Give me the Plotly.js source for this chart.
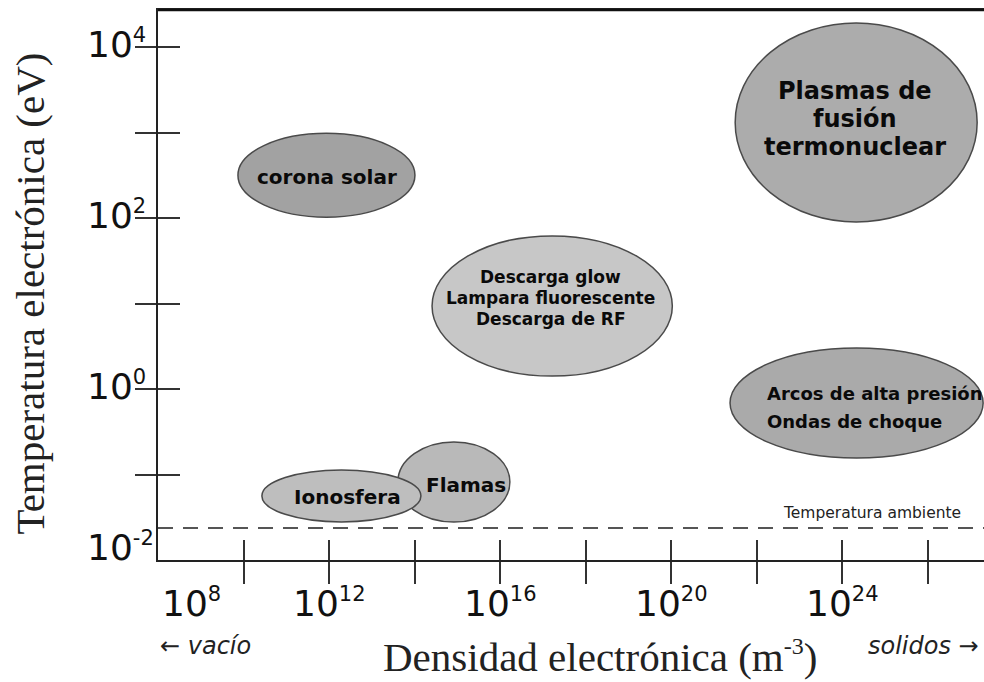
<!DOCTYPE html>
<html><head><meta charset="utf-8">
<script src="https://cdn.plot.ly/plotly-3.0.1.min.js"></script>
<style>html,body{margin:0;padding:0;background:#fff}#chart{width:984px;height:682px}</style>
</head><body><div id="chart"></div>
<script>
// ---- Data (log10 units: density in m^-3, temperature in eV) ----
const regionLines = [
  ['corona solar'],
  ['Plasmas de', 'fusión', 'termonuclear'],
  ['Descarga glow', 'Lampara fluorescente', 'Descarga de RF'],
  ['Arcos de alta presión', 'Ondas de choque'],
  ['Flamas'],
  ['Ionosfera']
];
const densityCenterLog   = [11.94, 24.33, 17.22, 24.34, 14.92, 12.29];
const densityHalfWidth   = [2.07, 2.83, 2.81, 2.96, 1.31, 1.86];
const tempCenterLog      = [2.50, 3.117, 0.971, -0.164, -1.088, -1.251];
const tempHalfHeight     = [0.49, 1.164, 0.82, 0.643, 0.468, 0.304];
const labelDensityLog    = [11.96, 24.30, 17.19, 22.2, 15.2, 12.44];
const labelTempLog       = [2.48, 3.158, 1.064, -0.211, -1.123, -1.263];
const roomTemperatureEV  = 0.0237;
const roomTemperatureLabel = 'Temperatura ambiente';
const xTickExp  = [10, 12, 14, 16, 18, 20, 22, 24, 26];
const xLabelExp = [8, 12, 16, 20, 24];
const yTickExp  = [-1, 0, 1, 2, 3, 4];
const yLabelExp = [-2, 0, 2, 4];
const xRange = [8, 27.32];
const yRange = [-2, 4.433];

// ---- Styles ----
const regionFill = ['#a2a2a2', '#acacac', '#c7c7c7', '#aaaaaa', '#b9b9b9', '#bebebe'];
const regionFont = [20, 24, 17, 18, 20, 20];
const regionGap  = [0, 28, 21, 28, 0, 0];
const regionAlign = ['center', 'center', 'center', 'left', 'center', 'center'];
const sans = 'DejaVu Sans, Verdana, sans-serif';
const serif = 'Liberation Serif, Times New Roman, serif';
const axisColor = '#222';

const shapes = [];
densityCenterLog.forEach((c, i) => {
  shapes.push({
    type: 'circle', xref: 'x', yref: 'y', layer: 'above',
    x0: c - densityHalfWidth[i], x1: c + densityHalfWidth[i],
    y0: tempCenterLog[i] - tempHalfHeight[i], y1: tempCenterLog[i] + tempHalfHeight[i],
    fillcolor: regionFill[i], line: {color: '#4a4a4a', width: 1.5}
  });
});
const roomLog = Math.log10(roomTemperatureEV);
shapes.push({type: 'line', xref: 'paper', x0: 0, x1: 1, yref: 'y', y0: roomLog, y1: roomLog,
  line: {color: '#555', width: 2, dash: '15px,10px'}, layer: 'below'});
// heavier top frame line
shapes.push({type: 'line', xref: 'paper', x0: 0, x1: 1, yref: 'paper', y0: 1, y1: 1,
  line: {color: '#111', width: 2.5}, layer: 'above'});

const annotations = [];
regionLines.forEach((lines, i) => {
  const n = lines.length;
  lines.forEach((t, j) => {
    annotations.push({
      xref: 'x', yref: 'y', x: labelDensityLog[i], y: labelTempLog[i],
      yshift: ((n - 1) / 2 - j) * regionGap[i],
      xanchor: regionAlign[i] === 'left' ? 'left' : 'center', yanchor: 'middle',
      text: '<b>' + t + '</b>', showarrow: false,
      font: {family: sans, size: regionFont[i], color: '#0a0a0a'}
    });
  });
});
// room temperature label
annotations.push({xref: 'x', yref: 'y', x: 24.7, y: roomLog, yshift: 15, yanchor: 'middle',
  text: roomTemperatureLabel, showarrow: false, font: {family: sans, size: 15.5, color: '#222'}});
// x tick labels
xLabelExp.forEach(e => {
  annotations.push({xref: 'x', x: e, yref: 'paper', y: 0, yanchor: 'top', yshift: -20,
    xanchor: e === xRange[0] ? 'left' : 'center', xshift: e === xRange[0] ? 2 : 0,
    text: '10<sup><span style="font-size:21px">' + e + '</span></sup>', showarrow: false,
    font: {family: sans, size: 36, color: '#111'}});
});
// y tick labels
yLabelExp.forEach(e => {
  annotations.push({xref: 'paper', x: 0, xanchor: 'left', xshift: -73, yref: 'y', y: e,
    yanchor: 'middle', yshift: e === yRange[0] ? 13 : 3,
    text: '10<sup><span style="font-size:21px">' + e + '</span></sup>', showarrow: false,
    font: {family: sans, size: 36, color: '#111'}});
});
// axis titles
annotations.push({xref: 'paper', yref: 'paper', x: 0, xshift: -128, y: 0.4845, textangle: -90,
  xanchor: 'center', yanchor: 'middle', showarrow: false,
  text: 'Temperatura electrónica (eV)', font: {family: serif, size: 41, color: '#222'}});
annotations.push({xref: 'paper', yref: 'paper', x: 0.535, y: 0, yshift: -96,
  xanchor: 'center', yanchor: 'middle', showarrow: false,
  text: 'Densidad electrónica (m<sup><span style="font-size:24px">-3</span></sup>)', font: {family: serif, size: 41, color: '#222'}});
annotations.push({xref: 'paper', yref: 'paper', x: 0, y: 0, yshift: -86, xanchor: 'left', yanchor: 'middle',
  showarrow: false, text: '← <i>vacío</i>', font: {family: sans, size: 24, color: '#222'}});
annotations.push({xref: 'paper', yref: 'paper', x: 0.857, y: 0, yshift: -86, xanchor: 'left', yanchor: 'middle',
  showarrow: false, text: '<i>solidos</i> →', font: {family: sans, size: 24, color: '#222'}});

const baseAxis = {showgrid: false, zeroline: false, showticklabels: false, tickwidth: 2, tickcolor: '#333', fixedrange: true};
const layout = {
  width: 984, height: 682,
  margin: {l: 158, r: 0, t: 10, b: 122, pad: 0},
  paper_bgcolor: '#fff', plot_bgcolor: '#fff',
  showlegend: false,
  xaxis: Object.assign({}, baseAxis, {range: xRange, tickmode: 'array', tickvals: xTickExp, ticks: 'outside', ticklen: 22,
    showline: true, linecolor: axisColor, linewidth: 2, mirror: true}),
  xaxis2: Object.assign({}, baseAxis, {range: xRange, tickmode: 'array', tickvals: xTickExp, ticks: 'inside', ticklen: 20,
    overlaying: 'x', anchor: 'y', side: 'bottom', showline: false}),
  yaxis: Object.assign({}, baseAxis, {range: yRange, tickmode: 'array', tickvals: yTickExp, ticks: 'outside', ticklen: 21,
    showline: true, linecolor: axisColor, linewidth: 2}),
  yaxis2: Object.assign({}, baseAxis, {range: yRange, tickmode: 'array', tickvals: yTickExp, ticks: 'inside', ticklen: 22,
    overlaying: 'y', anchor: 'x', side: 'left', showline: false}),
  shapes: shapes,
  annotations: annotations
};
const traces = [
  {type: 'scatter', mode: 'markers', x: densityCenterLog, y: tempCenterLog, marker: {opacity: 0, size: 1}, hoverinfo: 'skip', xaxis: 'x', yaxis: 'y'},
  {type: 'scatter', mode: 'markers', x: densityCenterLog, y: tempCenterLog, marker: {opacity: 0, size: 1}, hoverinfo: 'skip', xaxis: 'x2', yaxis: 'y2'}
];
Plotly.newPlot('chart', traces, layout, {staticPlot: true, displayModeBar: false});
</script>
</body></html>
